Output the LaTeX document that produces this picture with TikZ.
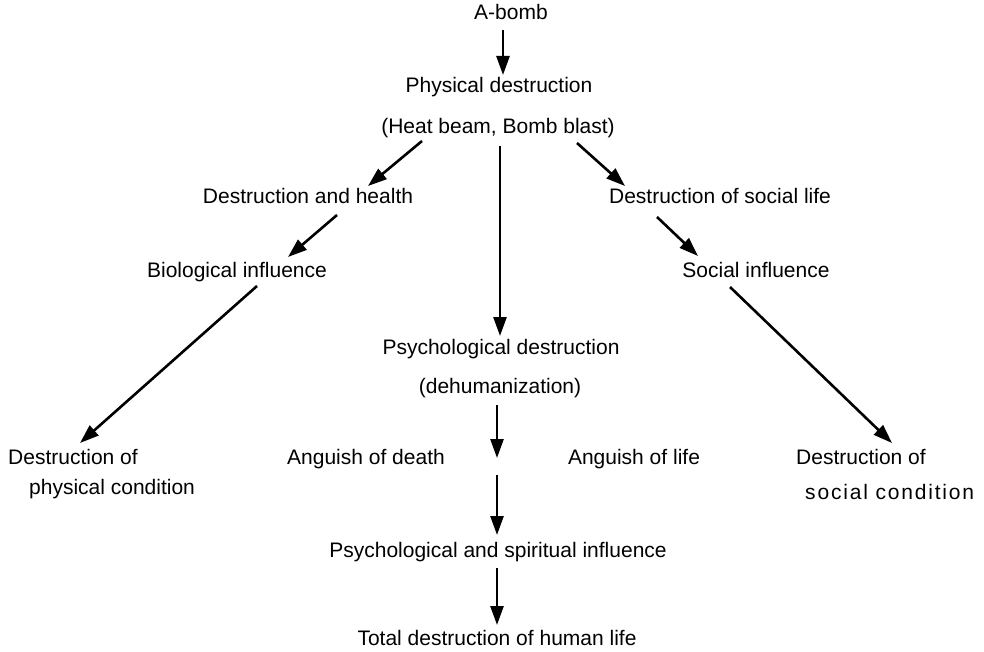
\documentclass[tikz,border=0pt]{standalone}
\usepackage{fontspec}
\setmainfont{Liberation Sans}
\usetikzlibrary{arrows.meta}

\begin{document}
\begin{tikzpicture}[x=1pt,y=-1pt,
  lbl/.style={inner sep=0pt, anchor=base, font=\fontsize{21}{30}\selectfont},
  lbltwo/.style={inner sep=0pt, anchor=north west, align=left, font=\fontsize{21}{30}\selectfont},
  arr/.style={line width=2.6pt, -{Triangle[length=19pt,width=13pt]}}]
\useasboundingbox (0,0) rectangle (984,652);
% main column%
\node[lbl] (abomb) at (511,20) {A-bomb};
\node[lbl] (phys) at (499,93) {Physical destruction};
\node[lbl] (heat) at (498,134) {(Heat beam, Bomb blast)};
\node[lbl] (psych) at (501,354) {Psychological destruction};
\node[lbl] (dehum) at (500,393) {(dehumanization)};
\node[lbl] (death) at (366,464) {Anguish of death};
\node[lbl] (life) at (634,464) {Anguish of life};
\coordinate (mid) at (497,466);
\node[lbl] (spirit) at (498,557) {Psychological and spiritual influence};
\node[lbl] (total) at (497,645) {Total destruction of human life};
% left branch%
\node[lbl] (health) at (308,204) {Destruction and health};
\node[lbl] (bio) at (237,277) {Biological influence};
\node[lbltwo] (physcond) at (8,449) {Destruction of\\\hspace*{21pt}physical condition};
% right branch%
\node[lbl] (social) at (720,204) {Destruction of social life};
\node[lbl] (socinf) at (756,277) {Social influence};
\node[lbltwo] (soccond) at (796,449) {Destruction of\\[5pt]\hspace*{9pt}{\addfontfeature{LetterSpace=8.6}social condition}};

% arrows%
\draw[arr] ([shift={(-8,10)}]abomb.base) -- ([shift={(4,-18)}]phys.base);
\draw[arr] ([shift={(-76,7)}]heat.base) -- ([shift={(60,-18)}]health.base);
\draw[arr] ([shift={(29,11)}]health.base) -- ([shift={(51,-20)}]bio.base);
\draw[arr] ([shift={(20,9)}]bio.base) -- ([shift={(72,-6)}]physcond.north west);
\draw[arr] ([shift={(2,12)}]heat.base) -- ([shift={(-1,-18)}]psych.base);
\draw[arr] ([shift={(-3,12)}]dehum.base) -- ([shift={(0,-8)}]mid);
\draw[arr] ([shift={(0,9)}]mid) -- ([shift={(-1,-22)}]spirit.base);
\draw[arr] ([shift={(-1,11)}]spirit.base) -- ([shift={(0,-20)}]total.base);
\draw[arr] ([shift={(79,9)}]heat.base) -- ([shift={(-95,-18)}]social.base);
\draw[arr] ([shift={(-63,13)}]social.base) -- ([shift={(-58,-21)}]socinf.base);
\draw[arr] ([shift={(-26,10)}]socinf.base) -- ([shift={(96,-6)}]soccond.north west);
\end{tikzpicture}
\end{document}
